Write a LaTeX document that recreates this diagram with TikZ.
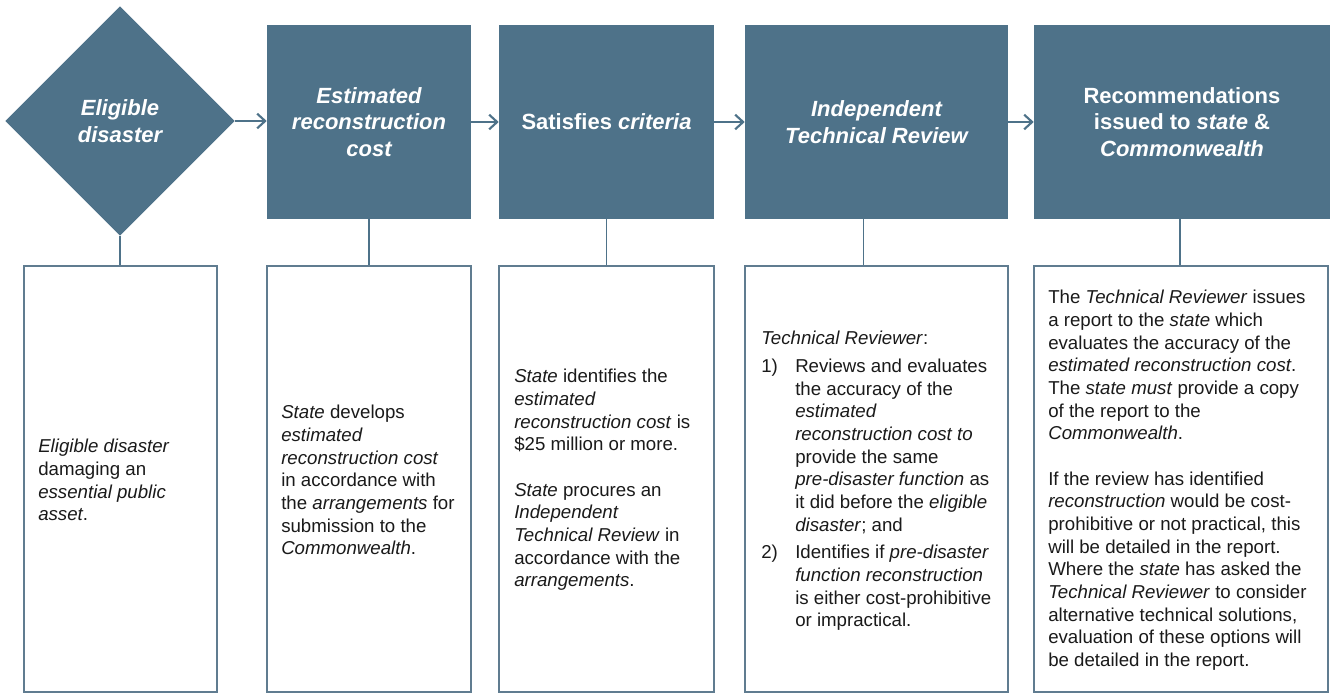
\documentclass[tikz,border=0pt]{standalone}
\usepackage{fontspec}
\setmainfont{Liberation Sans}
\usetikzlibrary{shapes.geometric,arrows.meta}
\definecolor{boxblue}{RGB}{78,114,137}
\definecolor{lowline}{RGB}{96,124,144}
\definecolor{txt}{RGB}{26,26,26}
\begin{document}
\begin{tikzpicture}[x=0.75pt,y=-0.75pt,
  topbox/.style={fill=boxblue,draw=none,inner sep=0pt,text=white,
    font=\fontsize{16.5}{20}\selectfont\bfseries,align=center},
  lowbox/.style={draw=lowline,line width=0.8pt,fill=white,inner sep=0pt,
    minimum height=319.5pt},
  lowtext/.style={anchor=west,align=left,inner sep=0pt,text=txt,
    font=\fontsize{14}{17}\selectfont},
  flow/.style={draw=boxblue,line width=1.6pt,-{Straight Barb[length=6pt,width=11pt]}},
  link/.style={draw=boxblue,line width=1.2pt}]
\useasboundingbox (0,0) rectangle (1330,695);

% top row
\node[topbox,diamond,aspect=1,minimum width=172pt,minimum height=172pt,
  font=\fontsize{16.5}{20}\selectfont\bfseries\itshape] (d) at (120,121)
  {Eligible\\disaster};
\node[topbox,minimum width=153pt,minimum height=145.5pt,
  font=\fontsize{16.5}{20}\selectfont\bfseries\itshape] (b2) at (369,122)
  {Estimated\\reconstruction\\cost};
\node[topbox,minimum width=161.25pt,minimum height=145.5pt] (b3) at (606.5,122)
  {Satisfies \textit{criteria}};
\node[topbox,minimum width=197.25pt,minimum height=145.5pt,
  font=\fontsize{16.5}{20}\selectfont\bfseries\itshape] (b4) at (876.5,122)
  {Independent\\Technical Review};
\node[topbox,minimum width=222pt,minimum height=145.5pt] (b5) at (1182,122)
  {Recommendations\\issued to \textit{state} \&\\\textit{Commonwealth}};

% arrows
\draw[flow] (d.east) -- (d.east -| b2.west);
\draw[flow] (b2.east) -- (b3.west);
\draw[flow] (b3.east) -- (b4.west);
\draw[flow] (b4.east) -- (b5.west);

% lower boxes
\node[lowbox,minimum width=144.75pt] (l1) at (120.5,479) {};
\node[lowbox,minimum width=153pt] (l2) at (369,479) {};
\node[lowbox,minimum width=161.25pt] (l3) at (606.5,479) {};
\node[lowbox,minimum width=197.25pt] (l4) at (876.5,479) {};
\node[lowbox,minimum width=220.5pt] (l5) at (1181,479) {};

% vertical links
\draw[link] (d.south) -- (d.south |- l1.north);
\draw[link] (b2.south) -- (l2.north);
\draw[link] (b3.south) -- (b3.south |- l3.north);
\draw[link] ([xshift=-9.75pt]b4.south) -- ([xshift=-9.75pt]b4.south |- l4.north);
\draw[link] ([xshift=-1.5pt]b5.south) -- ([xshift=-1.5pt]b5.south |- l5.north);

% texts
\node[lowtext] (t1) at (38,480)
  {\textit{Eligible disaster}\\damaging an\\\textit{essential public}\\\textit{asset}.};
\node[lowtext] (t2) at (281,480)
  {\textit{State} develops\\\textit{estimated}\\\textit{reconstruction cost}\\in accordance with\\the \textit{arrangements} for\\submission to the\\\textit{Commonwealth}.};
\node[lowtext] (t3) at (514,480)
  {\textit{State} identifies the\\\textit{estimated}\\\textit{reconstruction cost} is\\\$25 million or more.\\[17pt]\textit{State} procures an\\\textit{Independent}\\\textit{Technical Review} in\\accordance with the\\\textit{arrangements}.};
\node[lowtext] (t4) at (761,481)
  {\textit{Technical Reviewer}:\\[3.75pt]
   \makebox[25.5pt][l]{1)}Reviews and evaluates\\
   \hspace*{25.5pt}the accuracy of the\\
   \hspace*{25.5pt}\textit{estimated}\\
   \hspace*{25.5pt}\textit{reconstruction cost to}\\
   \hspace*{25.5pt}provide the same\\
   \hspace*{25.5pt}\textit{pre-disaster function} as\\
   \hspace*{25.5pt}it did before the \textit{eligible}\\
   \hspace*{25.5pt}\textit{disaster}; and\\[3.75pt]
   \makebox[25.5pt][l]{2)}Identifies if \textit{pre-disaster}\\
   \hspace*{25.5pt}\textit{function reconstruction}\\
   \hspace*{25.5pt}is either cost-prohibitive\\
   \hspace*{25.5pt}or impractical.};
\node[lowtext] (t5) at (1048,480.5)
  {The \textit{Technical Reviewer} issues\\a report to the \textit{state} which\\evaluates the accuracy of the\\\textit{estimated reconstruction cost}.\\The \textit{state must} provide a copy\\of the report to the\\\textit{Commonwealth}.\\[17pt]If the review has identified\\\textit{reconstruction} would be cost-\\prohibitive or not practical, this\\will be detailed in the report.\\Where the \textit{state} has asked the\\\textit{Technical Reviewer} to consider\\alternative technical solutions,\\evaluation of these options will\\be detailed in the report.};
\end{tikzpicture}
\end{document}
